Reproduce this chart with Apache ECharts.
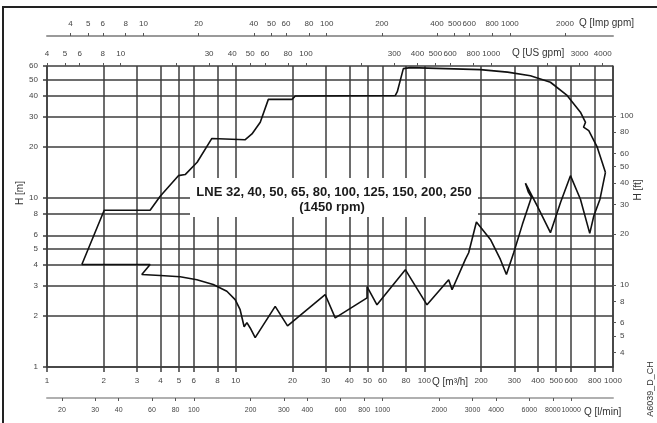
<!DOCTYPE html>
<html><head><meta charset="utf-8">
<script src="https://cdn.jsdelivr.net/npm/echarts@6/dist/echarts.min.js"></script>
<style>html,body{margin:0;padding:0;background:#fff}#c{width:657px;height:423px}</style>
</head><body><div id="c"></div>
<script>
// ---- tick / label lists ----
const qTicks = [1,2,3,4,5,6,8,10,20,30,40,50,60,80,100,200,300,400,500,600,800,1000];
const hTicks = [1,2,3,4,5,6,8,10,20,30,40,50,60];
const ftTicks = [4,5,6,8,10,20,30,40,50,60,80,100];
const usGpmTicks = [4,5,6,8,10,20,30,40,50,60,80,100,200,300,400,500,600,800,1000,2000,3000,4000];
const usGpmLabels = [4,5,6,8,10,30,40,50,60,80,100,300,400,500,600,800,1000,3000,4000];
const impGpmLabels = [4,5,6,8,10,20,40,50,60,80,100,200,400,500,600,800,1000,2000];
const lminLabels = [20,30,40,60,80,100,200,300,400,600,800,1000,2000,3000,4000,6000,8000,10000];

// ---- envelope (Q m3/h, H m) ----
const upperQ = [1.53,2.01,3.52,3.98,4.97,5.40,6.25,7.48,11.2,12.2,13.5,14.9,19.9,20.7,70.2,71.9,77.4,84.3,198,276,365,466,571,672,715,698,744,825,876,912];
const upperH = [4.03,8.43,8.43,10.2,13.5,13.7,16.2,22.4,22.0,23.8,27.9,38.1,38.1,39.9,40.2,42.3,57.9,58.7,57.1,55.2,52.6,48.1,40.2,32.0,27.9,26.1,24.9,19.9,16.2,14.1];
const lowerQ = [1.53,3.52,3.18,3.98,5.08,6.23,7.60,8.98,9.94,10.56,11.09,11.47,11.94,12.69,16.2,18.83,29.8,33.7,49.7,49.7,56.1,79.3,103.3,134.6,140.3,165,171.8,188.8,224,253,272.3,297.6,331,369.5,356.1,343.4,397.7,466,527,595,672,753,791,853,912];
const lowerH = [4.03,4.03,3.52,3.47,3.41,3.28,3.07,2.80,2.50,2.18,1.73,1.83,1.70,1.49,2.28,1.75,2.68,1.95,2.56,2.98,2.33,3.76,2.33,3.28,2.86,4.32,4.73,7.19,5.67,4.32,3.52,4.73,6.96,10.07,10.78,12.19,8.90,6.22,9.37,13.5,9.80,6.16,7.80,9.80,14.1];

// secondary scale extents as printed on the original sheet
const usGpmRange = [4.0, 4544];
const impGpmRange = [2.975, 3656];
const L_MIN = 16.6667, FT = 3.28084;

const FONT = '"Liberation Sans", Arial, sans-serif';
const GRID = '#3c3c3c';
const fmt = v => String(Math.round(v));
const lbl = (vals, margin, size) => ({customValues: vals, formatter: fmt, fontSize: size || 8, color: '#444', fontFamily: FONT, margin: margin,
  hideOverlap: false, showMinLabel: true, showMaxLabel: true});

const chart = echarts.init(document.getElementById('c'), null, {renderer: 'canvas'});
chart.setOption({
  animation: false,
  backgroundColor: '#fff',
  grid: {left: 47, right: 44, top: 66, bottom: 56, containLabel: false},
  xAxis: [
    {type: 'log', min: 1, max: 1000, position: 'bottom',
     axisLine: {show: true, lineStyle: {color: GRID, width: 1.5}},
     axisTick: {show: true, customValues: qTicks, length: 5, inside: false, lineStyle: {color: GRID, width: 1.5}},
     splitLine: {show: true, lineStyle: {color: GRID, width: 1.5}},
     axisLabel: lbl(qTicks, 10)},
    {type: 'log', min: usGpmRange[0], max: usGpmRange[1], position: 'top', offset: 0,
     axisLine: {show: false},
     axisTick: {show: true, customValues: usGpmTicks, length: 3, lineStyle: {color: '#555', width: 1}},
     splitLine: {show: false},
     axisLabel: lbl(usGpmLabels, 8)},
    {type: 'log', min: impGpmRange[0], max: impGpmRange[1], position: 'top', offset: 30,
     axisLine: {show: true, lineStyle: {color: '#9a9a9a', width: 2}},
     axisTick: {show: true, customValues: impGpmLabels, length: 3, lineStyle: {color: '#555', width: 1}},
     splitLine: {show: false},
     axisLabel: lbl(impGpmLabels, 8)},
    {type: 'log', min: L_MIN, max: 1000 * L_MIN, position: 'bottom', offset: 31,
     axisLine: {show: true, lineStyle: {color: '#b0b0b0', width: 2}},
     axisTick: {show: true, customValues: lminLabels, length: 3, lineStyle: {color: '#555', width: 1}},
     splitLine: {show: false},
     axisLabel: lbl(lminLabels, 9, 7)}
  ],
  yAxis: [
    {type: 'log', min: 1, max: 60, position: 'left',
     axisLine: {show: true, lineStyle: {color: GRID, width: 1.5}},
     axisTick: {show: true, customValues: hTicks, length: 4, lineStyle: {color: GRID, width: 1.5}},
     splitLine: {show: true, lineStyle: {color: GRID, width: 1.5}},
     axisLabel: lbl(hTicks, 9)},
    {type: 'log', min: FT, max: 60 * FT, position: 'right',
     axisLine: {show: true, lineStyle: {color: GRID, width: 1.5}},
     axisTick: {show: true, customValues: ftTicks, length: 3, lineStyle: {color: '#555', width: 1}},
     splitLine: {show: false},
     axisLabel: lbl(ftTicks, 7)}
  ],
  series: [
    {type: 'line', name: 'upper', xAxisIndex: 0, yAxisIndex: 0, z: 10, showSymbol: false, symbol: 'none',
     lineStyle: {color: '#111', width: 1.6}, data: upperQ.map((q, i) => [q, upperH[i]])},
    {type: 'line', name: 'lower', xAxisIndex: 0, yAxisIndex: 0, z: 10, showSymbol: false, symbol: 'none',
     lineStyle: {color: '#111', width: 1.6}, data: lowerQ.map((q, i) => [q, lowerH[i]])}
  ],
  graphic: [
    {type: 'rect', z: 3, shape: {x: 190, y: 178, width: 288, height: 39}, style: {fill: '#fff'}},
    {type: 'text', z: 4, x: 334, y: 192, style: {text: 'LNE 32, 40, 50, 65, 80, 100, 125, 150, 200, 250', fill: '#1a1a1a', font: 'bold 13px ' + FONT, textAlign: 'center', textVerticalAlign: 'middle'}},
    {type: 'text', z: 4, x: 332, y: 207, style: {text: '(1450 rpm)', fill: '#1a1a1a', font: 'bold 13px ' + FONT, textAlign: 'center', textVerticalAlign: 'middle'}},
    {type: 'text', z: 4, x: 579, y: 23, style: {text: 'Q [Imp gpm]', fill: '#333', font: '10px ' + FONT, textAlign: 'left', textVerticalAlign: 'middle'}},
    {type: 'text', z: 4, x: 512, y: 53, style: {text: 'Q [US gpm]', fill: '#333', font: '10px ' + FONT, textAlign: 'left', textVerticalAlign: 'middle'}},
    {type: 'text', z: 4, x: 432, y: 382, style: {text: 'Q [m³/h]', fill: '#333', font: '10px ' + FONT, textAlign: 'left', textVerticalAlign: 'middle'}},
    {type: 'text', z: 4, x: 584, y: 412, style: {text: 'Q [l/min]', fill: '#333', font: '10px ' + FONT, textAlign: 'left', textVerticalAlign: 'middle'}},
    {type: 'text', z: 4, x: 20, y: 193, rotation: Math.PI / 2, style: {text: 'H [m]', fill: '#333', font: '10px ' + FONT, textAlign: 'center', textVerticalAlign: 'middle'}},
    {type: 'text', z: 4, x: 638, y: 190, rotation: Math.PI / 2, style: {text: 'H [ft]', fill: '#333', font: '10px ' + FONT, textAlign: 'center', textVerticalAlign: 'middle'}},
    {type: 'text', z: 4, x: 651, y: 389, rotation: Math.PI / 2, style: {text: 'A6039_D_CH', fill: '#333', font: '9px ' + FONT, textAlign: 'center', textVerticalAlign: 'middle'}},
    {type: 'rect', z: 4, shape: {x: 3, y: 7, width: 700, height: 500}, style: {fill: null, stroke: '#222', lineWidth: 2}}
  ]
});
</script>
</body></html>
